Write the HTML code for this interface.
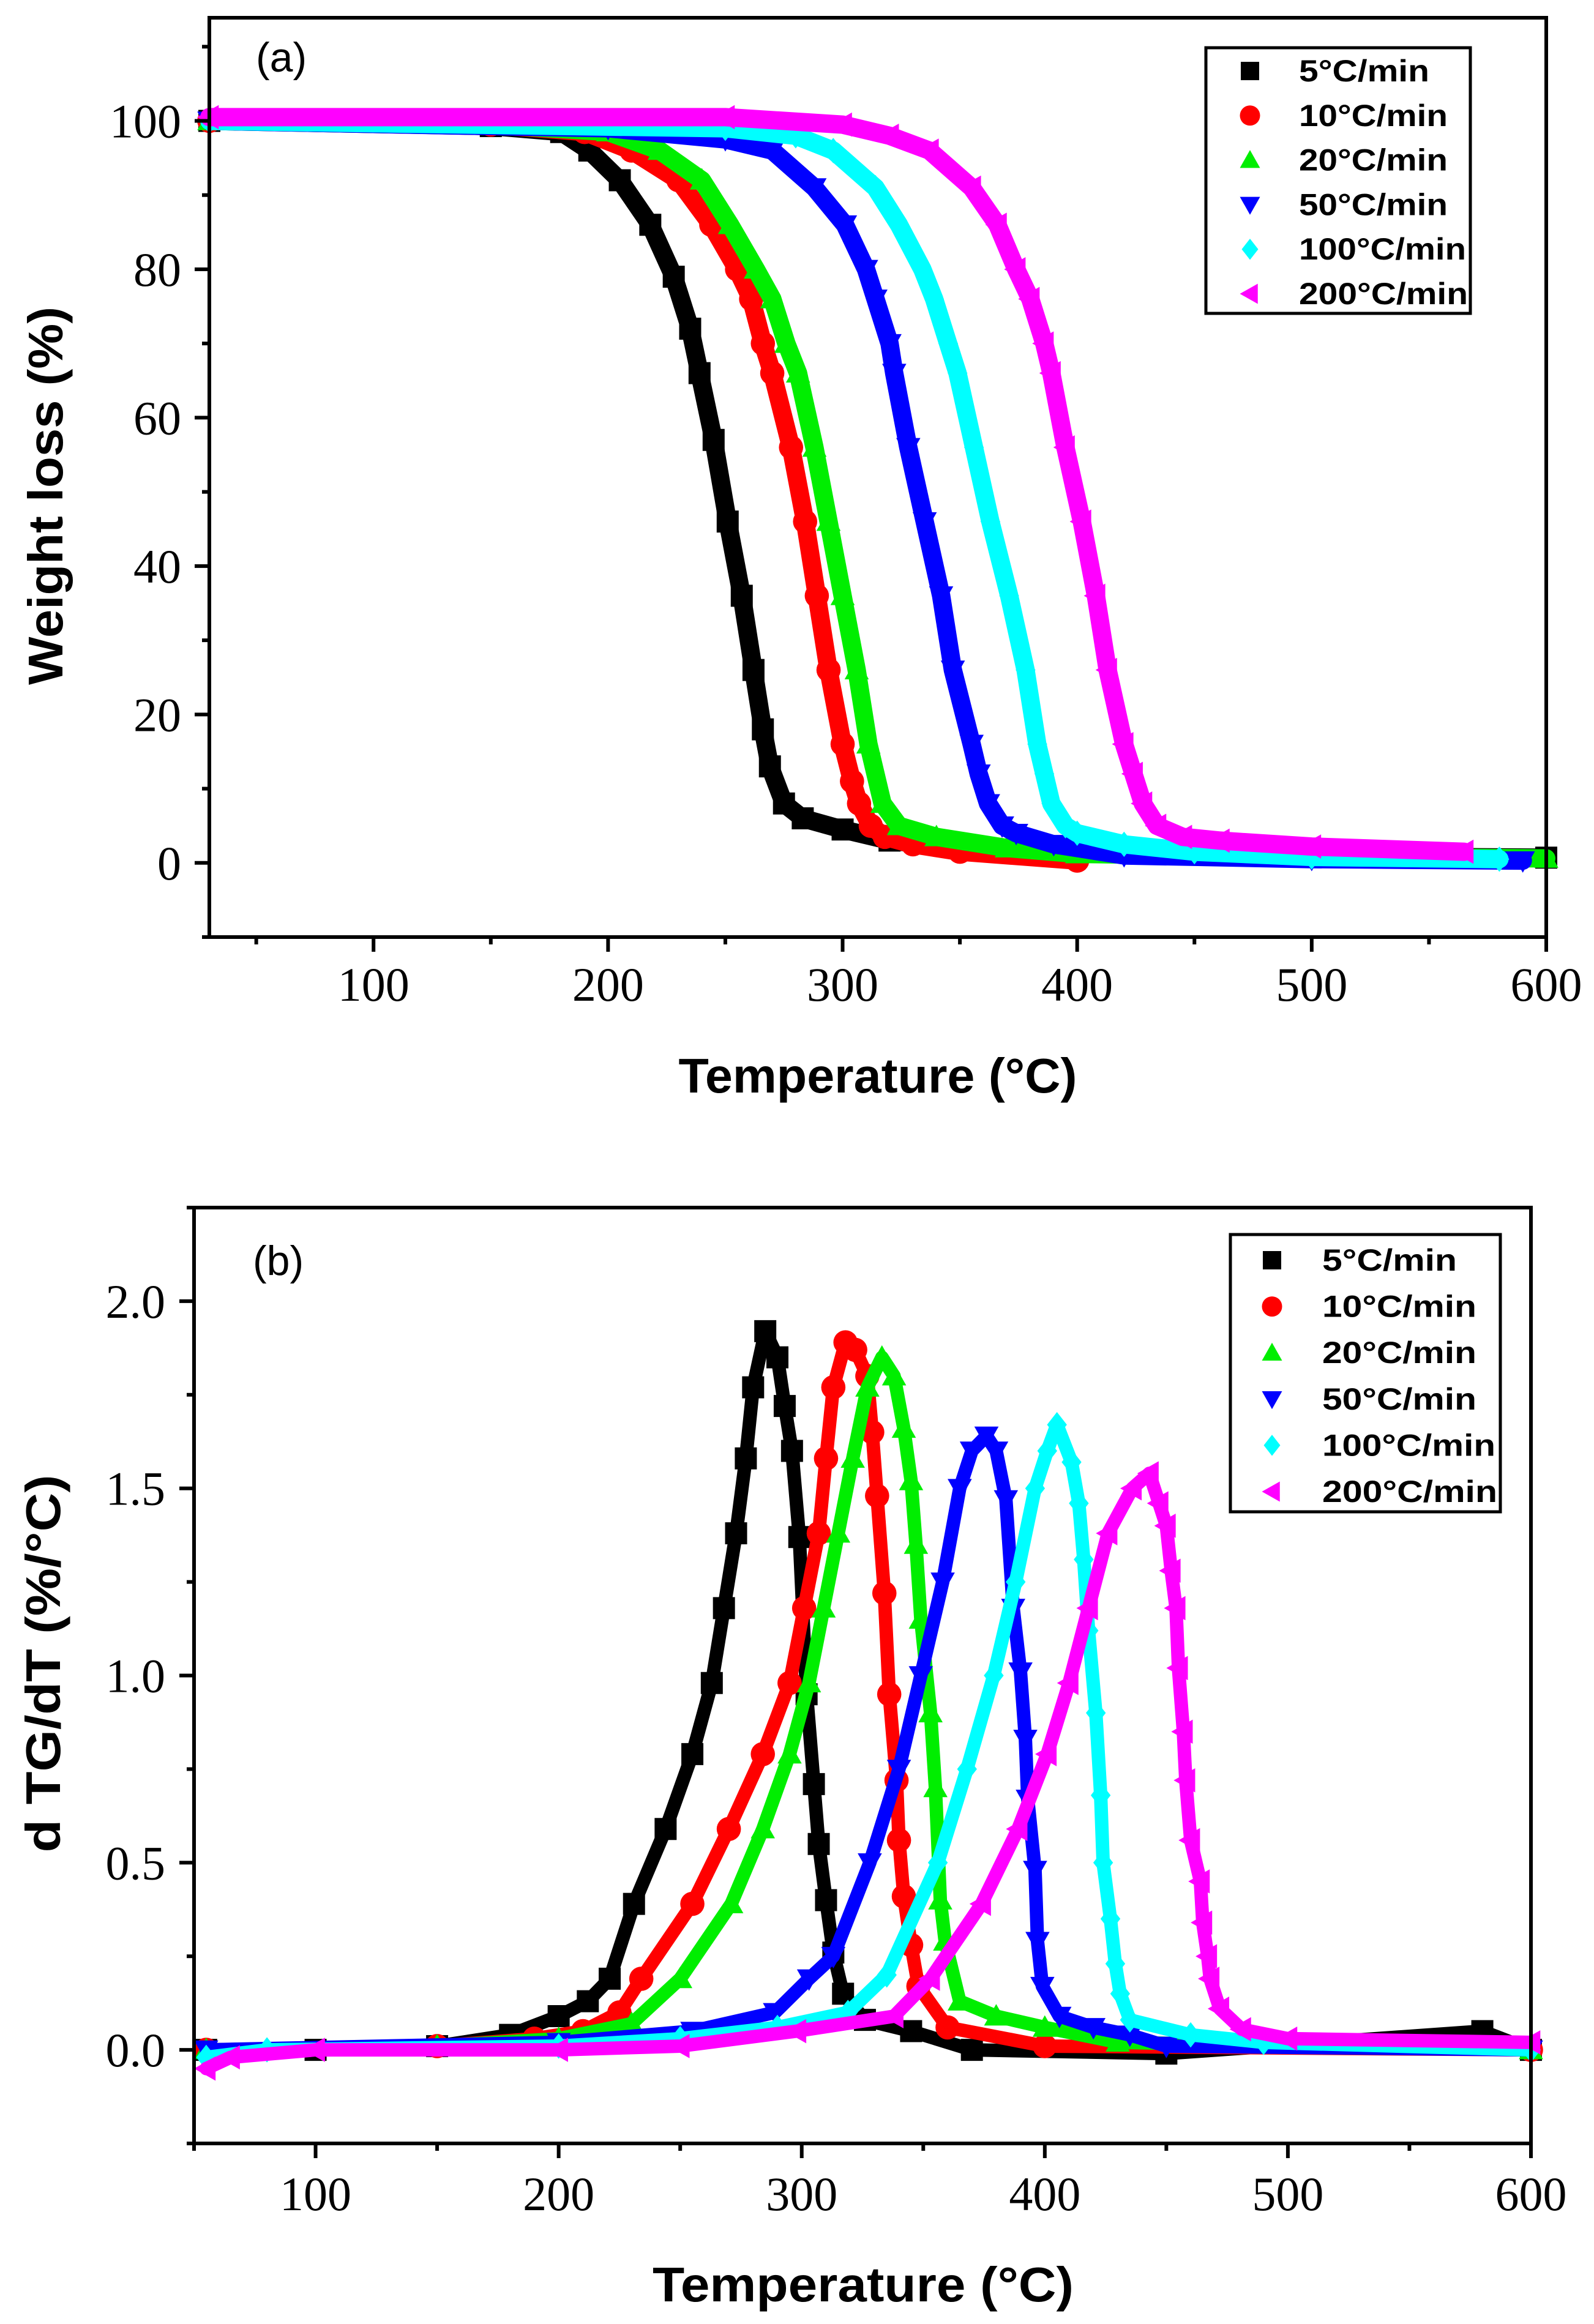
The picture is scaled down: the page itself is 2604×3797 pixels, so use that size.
<!DOCTYPE html>
<html><head><meta charset="utf-8">
<style>
html,body{margin:0;padding:0;background:#fff;}
svg{display:block;}
.tick{font-family:"Liberation Serif",serif;font-size:78px;fill:#000;}
.title{font-family:"Liberation Sans",sans-serif;font-weight:bold;font-size:80px;fill:#000;}
.leg{font-family:"Liberation Sans",sans-serif;font-weight:bold;font-size:50px;fill:#000;}
.panel{font-family:"Liberation Sans",sans-serif;font-size:68px;fill:#000;}
</style></head>
<body>
<svg id="fig" width="2604" height="3797" viewBox="0 0 2604 3797" xmlns="http://www.w3.org/2000/svg"></svg>
<script>
// ---------- shared data ----------
const seriesNames = ["5°C/min","10°C/min","20°C/min","50°C/min","100°C/min","200°C/min"];
const seriesColors = ["#000000","#ff0000","#00ee00","#0000ff","#00ffff","#ff00ff"];
const seriesShapes = ["square","circle","up","down","diamond","left"];

// ---------- panel (a) TG data ----------
const tgT5   = [30,150,180,192,205,218,228,235,239,245,251,257,262,266,269,275,283,300,320,350,400,500,600];
const tgW5   = [100,99.3,98.5,96,92,86,79,72,66,57,46,36,26,18,13,8,6,4.5,3,2,1.3,0.9,0.7];
const tgT10  = [30,150,190,210,230,244,255,261,266,270,278,284,289,294,300,304,307,312,318,330,350,400];
const tgW10  = [100,99.5,98.5,96,92,86,80,76,70,66,56,46,36,26,16,11,8,5,3.5,2.5,1.5,0.3];
const tgT20  = [30,150,200,222,240,252,263,270,276,281,288,294,300,306,311,317,324,340,370,400,500,600];
const tgW20  = [100,99.5,98.5,96,92,86,80,76,70,66,56,46,36,26,16,8,5,3.5,2,1.2,0.8,0.6];
const tgT50  = [30,200,250,270,288,301,310,314,320,322,328,335,342,347,355,358,362,368,374,390,420,500,590];
const tgW50  = [100,99,97.5,96,91,86,80,76,70,66,56,46,36,26,16,12,8,5,4,2.5,1,0.5,0.3];
const tgT100 = [30,250,280,296,314,324,334,339,345,349,356,363,371,378,383,386,389,395,400,420,450,500,580];
const tgW100 = [100,99,98,96,91,86,80,76,70,66,56,46,36,26,16,12,8,5,4,2.5,1.5,0.8,0.5];
const tgT200 = [30,250,300,320,337,355,366,374,380,386,389,395,402,408,413,420,424,428,434,445,461,500,565];
const tgW200 = [100.5,100.5,99.5,98,96,91,86,80,76,70,66,56,46,36,26,16,12,8,5,3.5,3,2.2,1.5];
const tgTemps = [tgT5,tgT10,tgT20,tgT50,tgT100,tgT200];
const tgVals  = [tgW5,tgW10,tgW20,tgW50,tgW100,tgW200];
const aXTicks = [100,200,300,400,500,600];
const aYTicks = [0,20,40,60,80,100];

// ---------- panel (b) DTG data ----------
const dT5   = [55,100,150,180,200,212,221,231,244,255,263,268,273,277,280,285,290,293,296,299,302,305,307,310,313,317,326,345,370,450,580,600];
const dV5   = [0,0,0.01,0.04,0.09,0.13,0.19,0.39,0.59,0.79,0.98,1.18,1.38,1.58,1.77,1.92,1.85,1.72,1.6,1.37,0.95,0.71,0.55,0.4,0.26,0.15,0.08,0.05,0,-0.01,0.05,0];
const dT10  = [55,150,190,210,225,234,255,270,284,295,301,307,310,313,318,322,327,329,331,334,336,339,340,342,345,348,360,400,600];
const dV10  = [0,0.01,0.03,0.05,0.1,0.19,0.39,0.59,0.79,0.98,1.18,1.38,1.58,1.77,1.89,1.87,1.8,1.65,1.48,1.22,0.95,0.72,0.56,0.41,0.28,0.17,0.06,0.01,0];
const dT20  = [55,150,200,230,250,271,284,295,303,309,315,321,327,333,338,342,345,347,349,353,355,357,359,365,380,400,430,600];
const dV20  = [0,0.01,0.03,0.07,0.19,0.39,0.59,0.79,0.98,1.18,1.38,1.58,1.77,1.85,1.8,1.66,1.52,1.35,1.15,0.9,0.7,0.4,0.29,0.13,0.09,0.06,0.02,0];
const dT50  = [55,200,255,289,303,313,328,340,349,358,365,370,376,380,384,387,390,392,393,396,397,399,406,420,435,450,600];
const dV50  = [0,0.02,0.05,0.1,0.19,0.25,0.5,0.75,1.0,1.25,1.5,1.6,1.64,1.6,1.47,1.18,1.01,0.83,0.67,0.48,0.29,0.17,0.09,0.06,0.04,0.01,0];
const dT100 = [55,80,200,250,290,319,335,356,368,379,388,396,401,405,411,414,416,418,421,423,424,427,429,431,435,460,490,600];
const dV100 = [-0.02,0,0.01,0.03,0.06,0.1,0.2,0.5,0.75,1.0,1.25,1.5,1.6,1.67,1.57,1.46,1.31,1.12,0.9,0.68,0.5,0.35,0.23,0.15,0.08,0.04,0.02,0];
const dT200 = [55,65,100,200,250,298,338,353,374,389,401,410,418,426,436,443,447,450,452,454,455,457,458,460,464,465,467,468,472,481,500,600];
const dV200 = [-0.05,-0.02,0,0,0.01,0.05,0.09,0.19,0.39,0.59,0.79,0.98,1.18,1.38,1.5,1.54,1.46,1.4,1.28,1.18,1.02,0.85,0.72,0.56,0.45,0.34,0.25,0.19,0.11,0.055,0.03,0.02];
const dtgTemps = [dT5,dT10,dT20,dT50,dT100,dT200];
const dtgVals  = [dV5,dV10,dV20,dV50,dV100,dV200];
const bXTicks = [100,200,300,400,500,600];
const bYTicks = [0,0.5,1,1.5,2];
const bYLabels = ["0.0","0.5","1.0","1.5","2.0"];

const NS = "http://www.w3.org/2000/svg";
const svg = document.getElementById("fig");
function mk(tag, attrs, parent){
  const e = document.createElementNS(NS, tag);
  for (const k in attrs) e.setAttribute(k, attrs[k]);
  (parent||svg).appendChild(e);
  return e;
}
function markerPath(shape, x, y, s){
  const h = s/2;
  if (shape==="square") return `M${x-h},${y-h}h${s}v${s}h${-s}z`;
  if (shape==="up") return `M${x},${y-h*1.1}L${x+h*1.1},${y+h*0.85}L${x-h*1.1},${y+h*0.85}z`;
  if (shape==="down") return `M${x},${y+h*1.1}L${x+h*1.1},${y-h*0.85}L${x-h*1.1},${y-h*0.85}z`;
  if (shape==="diamond") return `M${x},${y-h*1.15}L${x+h*0.9},${y}L${x},${y+h*1.15}L${x-h*0.9},${y}z`;
  if (shape==="left") return `M${x-h*1.1},${y}L${x+h*0.85},${y-h*1.1}L${x+h*0.85},${y+h*1.1}z`;
  return "";
}
function drawMarker(g, shape, x, y, s, color){
  if (shape==="circle") return mk("circle",{cx:x,cy:y,r:s*0.55,fill:color},g);
  return mk("path",{d:markerPath(shape,x,y,s),fill:color},g);
}

function panel(cfg){
  const P = cfg.box;
  const sx = v => P.x0 + (v - cfg.xmin) / (cfg.xmax - cfg.xmin) * (P.x1 - P.x0);
  const sy = v => P.y1 - (v - cfg.ymin) / (cfg.ymax - cfg.ymin) * (P.y1 - P.y0);
  const g = mk("g",{});
  
  

  const sg = mk("g",{},g);
  
  
  for (let i=0;i<seriesNames.length;i++){
    const T = cfg.temps[i], V = cfg.vals[i];
    const pts = T.map((t,j)=>`${sx(t).toFixed(1)},${sy(V[j]).toFixed(1)}`).join(" ");
    const s = mk("g",{},sg);
    
    
    mk("polyline",{points:pts,fill:"none",stroke:seriesColors[i],"stroke-width":cfg.band,"stroke-linejoin":"round","stroke-linecap":"round"},s);
    for (let j=0;j<T.length;j++){
      const m = drawMarker(s, seriesShapes[i], sx(T[j]), sy(V[j]), 36, seriesColors[i]);
      
      
    }
  }

  const fr = mk("rect",{x:P.x0,y:P.y0,width:P.x1-P.x0,height:P.y1-P.y0,fill:"none",stroke:"#000","stroke-width":6},g);
  
  

  for (let v=Math.ceil(cfg.xmin/cfg.xminor)*cfg.xminor; v<=cfg.xmax; v+=cfg.xminor){
    const major = cfg.xticks.indexOf(v)>=0;
    mk("line",{x1:sx(v),x2:sx(v),y1:P.y1,y2:P.y1+(major?24:12),stroke:"#000","stroke-width":6},g);
  }
  cfg.xticks.forEach(v=>{
    const t = mk("text",{x:sx(v),y:cfg.xLabelY,"text-anchor":"middle",class:"tick"},g);
    t.textContent = v;
    
    
  });
  for (let k=Math.ceil(cfg.ymin/cfg.yminor); k*cfg.yminor<=cfg.ymax+1e-9; k++){
    const v = k*cfg.yminor;
    const major = cfg.yticks.some(t=>Math.abs(t-v)<1e-9);
    mk("line",{x1:P.x0,x2:P.x0-(major?24:12),y1:sy(v),y2:sy(v),stroke:"#000","stroke-width":6},g);
  }
  cfg.yticks.forEach((v,i)=>{
    const t = mk("text",{x:cfg.yLabelX,y:sy(v)+27,"text-anchor":"end",class:"tick"},g);
    t.textContent = cfg.ylabels[i];
    
    
  });

  const xt = mk("text",{x:cfg.xTitle.x,y:cfg.xTitle.y,"text-anchor":"middle",class:"title",textLength:cfg.xTitle.len,lengthAdjust:"spacingAndGlyphs"},g);
  xt.textContent = "Temperature (°C)";
  
  
  const yt = mk("text",{x:0,y:0,"text-anchor":"middle",class:"title",textLength:cfg.yTitle.len,lengthAdjust:"spacingAndGlyphs",transform:`translate(${cfg.yTitle.x},${cfg.yTitle.y}) rotate(-90)`},g);
  yt.textContent = cfg.yTitle.text;
  
  
  const pl = mk("text",{x:cfg.plabel.x,y:cfg.plabel.y,class:"panel"},g);
  pl.textContent = cfg.plabel.text;
  
  

  const L = cfg.legend;
  const lg = mk("g",{},g);
  
  
  mk("rect",{x:L.x0,y:L.y0,width:L.x1-L.x0,height:L.y1-L.y0,fill:"#fff",stroke:"#000","stroke-width":5},lg);
  seriesNames.forEach((n,i)=>{
    const y = L.rowY0 + i*L.rowDY;
    const e = mk("g",{},lg);
    
    
    drawMarker(e, seriesShapes[i], L.mx, y, 30, seriesColors[i]);
    const t = mk("text",{x:L.tx,y:y+17,class:"leg",textLength:L.lens[i],lengthAdjust:"spacingAndGlyphs"},e);
    t.textContent = n;
  });
}

panel({
  name:"panel-a-tg", box:{x0:342,x1:2526,y0:29,y1:1531},
  xmin:30,xmax:600,ymin:-10,ymax:113.9,
  xticks:aXTicks,xminor:50,yticks:aYTicks,ylabels:aYTicks.map(String),yminor:10,
  temps:tgTemps,vals:tgVals,band:30,
  xLabelY:1635,yLabelX:296,
  xTitle:{x:1434,y:1785,len:651},
  yTitle:{x:102,y:810,len:618,text:"Weight loss (%)"},
  plabel:{x:418,y:117,text:"(a)"},
  legend:{x0:1970,x1:2402,y0:78,y1:512,rowY0:116,rowDY:72.8,mx:2042,tx:2122,lens:[213,243,243,243,273,276]}
});
panel({
  name:"panel-b-dtg", box:{x0:317,x1:2501,y0:1973,y1:3502},
  xmin:50,xmax:600,ymin:-0.25,ymax:2.25,
  xticks:bXTicks,xminor:50,yticks:bYTicks,ylabels:bYLabels,yminor:0.25,
  temps:dtgTemps,vals:dtgVals,band:22,
  xLabelY:3611,yLabelX:270,
  xTitle:{x:1410,y:3760,len:688},
  yTitle:{x:98,y:2718,len:617,text:"d TG/dT (%/°C)"},
  plabel:{x:413,y:2083,text:"(b)"},
  legend:{x0:2010,x1:2451,y0:2017,y1:2470,rowY0:2059,rowDY:75.6,mx:2078,tx:2160,lens:[220,252,252,252,283,286]}
});
</script>
</body></html>
